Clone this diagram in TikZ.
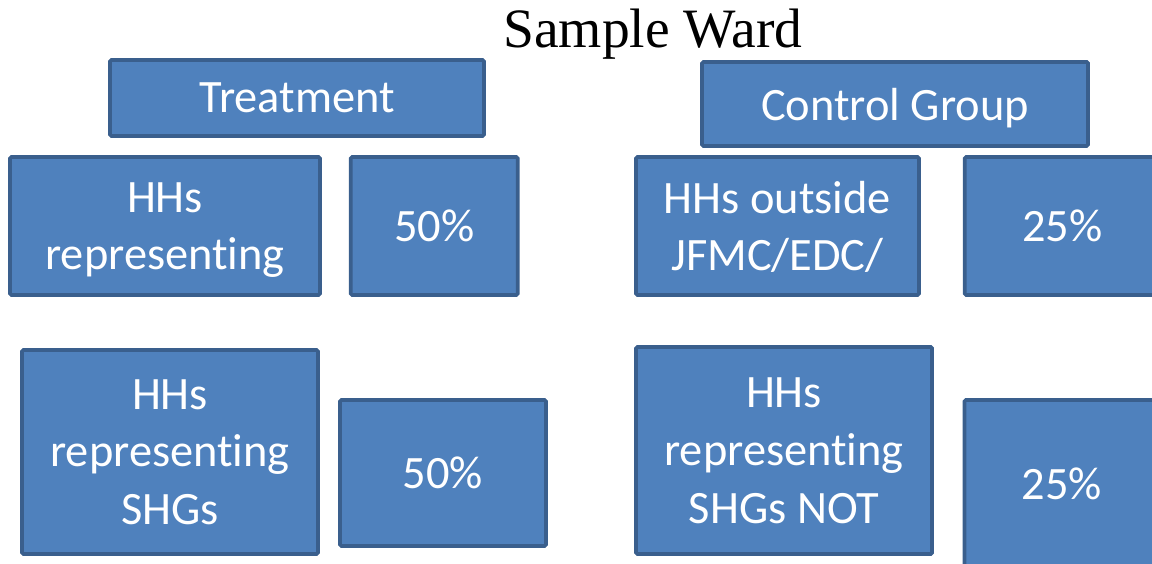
\documentclass[tikz,border=0pt]{standalone}
\usepackage{fontspec}
\setmainfont{Liberation Serif}
\newfontfamily\boxfont[Ligatures=NoCommon]{Carlito}
\usetikzlibrary{positioning}
\definecolor{boxfill}{HTML}{4F81BD}
\definecolor{boxline}{HTML}{3A5F8D}

\begin{document}
\begin{tikzpicture}[x=0.025cm,y=-0.025cm,
    wardbox/.style={draw=boxline,fill=boxfill,line width=2.6pt,rounded corners=1pt,
      text=white,align=center,inner sep=0pt,text depth=-3pt,
      font=\boxfont\fontsize{33}{41}\selectfont}]
              \useasboundingbox (0,0) rectangle (1152,564);
              \clip (0,0) rectangle (1152,564);

              \node[anchor=base,font=\fontsize{39.5}{44}\selectfont] (title) at (653,48) {Sample Ward};

              %treatment side
              \node[wardbox,minimum width=9.35cm,minimum height=1.9cm] (treat) at (297,98) {Treatment};
              \node[wardbox,minimum width=7.75cm,minimum height=3.45cm] (hhA) at (165,226) {HHs\\represent\kern0pt ing};
              \node[wardbox,minimum width=4.175cm,minimum height=3.45cm,right=0.675cm of hhA] (pctA) {50\%};
              \node[wardbox,minimum width=7.4cm,minimum height=5.1cm] (hhC) at (170,452) {HHs\\represent\kern0pt ing\\SHGs};
              \node[wardbox,minimum width=5.15cm,minimum height=3.65cm] (pctC) at (443,473) {50\%};

              %control side
              \node[wardbox,minimum width=9.65cm,minimum height=2.1cm] (ctrl) at (895,104) {Control Group};
              \node[wardbox,minimum width=7.075cm,minimum height=3.45cm] (hhB) at (777.5,226) {HHs outside\\JFMC/EDC/};
              \node[wardbox,minimum width=4.875cm,minimum height=3.45cm,right=1.05cm of hhB] (pctB) {25\%};
              \node[wardbox,minimum width=7.4cm,minimum height=5.175cm] (hhD) at (784,450.5) {HHs\\represent\kern0pt ing\\SHGs NOT};
              \node[wardbox,minimum width=4.875cm,minimum height=4.2cm] (pctD) at (1062,484) {25\%};
            \end{tikzpicture}
\end{document}
